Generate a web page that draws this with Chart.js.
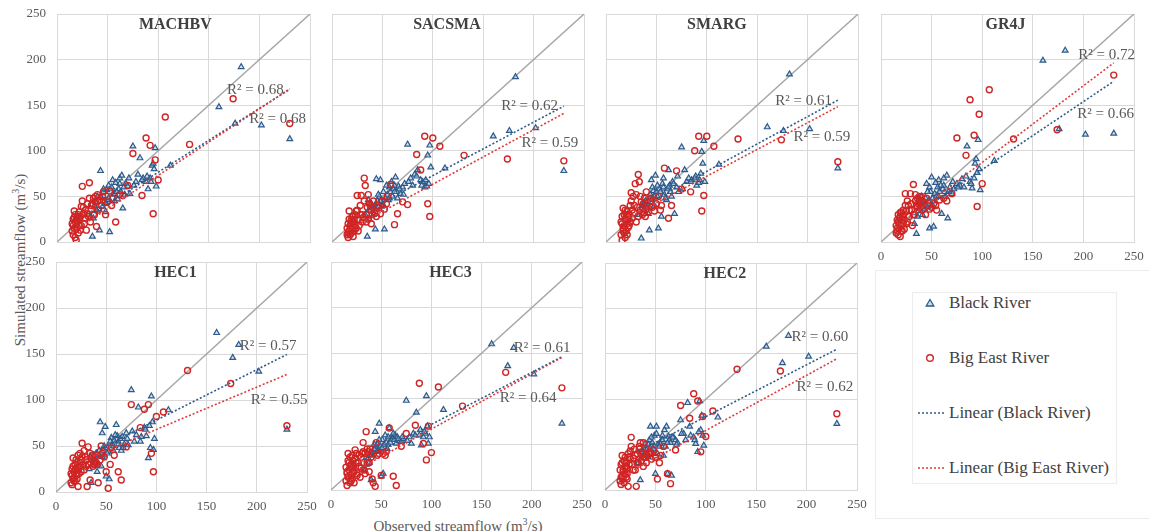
<!DOCTYPE html>
<html>
<head>
<meta charset="utf-8">
<script src="https://cdn.jsdelivr.net/npm/chart.js@4.4.1/dist/chart.umd.min.js"></script>
<style>
  body {
    margin: 0;
    width: 1149px;
    height: 531px;
    background: #ffffff;
    position: relative;
    overflow: hidden;
    font-family: "Liberation Serif", "Times New Roman", serif;
  }
  canvas {
    position: absolute;
  }
  .axis-title {
    position: absolute;
    font-family: "Liberation Serif", serif;
    font-size: 15px;
    color: #595959;
    white-space: nowrap;
    text-align: center;
  }
  .legend-frame {
    position: absolute;
    border: 1px solid #ececec;
  }
  .legend-text {
    position: absolute;
    left: 949px;
    font-family: "Liberation Serif", serif;
    font-size: 17px;
    line-height: 20px;
    color: #404040;
    white-space: nowrap;
  }
</style>
</head>
<body>

<div class="legend-frame" style="left:875px; top:270px; width:280px; height:247px;"></div>
<div class="legend-frame" style="left:912px; top:292px; width:203px; height:190px;"></div>
<svg style="position:absolute; left:875px; top:270px;" width="274" height="247">
  <polygon points="55,29.5 58.8,36 51.2,36" fill="rgba(160,190,225,0.5)" stroke="#2e5b8a" stroke-width="1.3"/>
  <circle cx="55" cy="88" r="3.3" fill="none" stroke="#d02525" stroke-width="1.4"/>
  <line x1="43" y1="143" x2="70" y2="143" stroke="#2e5b8a" stroke-width="1.6" stroke-dasharray="2,2"/>
  <line x1="43" y1="198" x2="70" y2="198" stroke="#e03a3a" stroke-width="1.6" stroke-dasharray="2,2"/>
</svg>
<div class="legend-text" style="top:293px;">Black River</div>
<div class="legend-text" style="top:348px;">Big East River</div>
<div class="legend-text" style="top:403px;">Linear (Black River)</div>
<div class="legend-text" style="top:458px;">Linear (Big East River)</div>

<div class="axis-title" style="left:-82px; top:248px; width:200px; line-height:20px; transform:rotate(-90deg);">Simulated streamflow (m<sup style="font-size:10px">3</sup>/s)</div>
<div class="axis-title" style="left:358px; top:512px; width:200px; line-height:20px;">Observed streamflow (m<sup style="font-size:10px">3</sup>/s)</div>

<script>
// observed flows, shared by every model panel
const blackObs = [33, 35, 36, 37, 38, 40, 41, 42, 43, 44, 45, 46, 47, 48, 49, 50, 51, 52, 53, 55, 56, 57, 58, 60, 61, 62, 63, 64, 65, 66, 68, 70, 72, 75, 78, 80, 82, 85, 88, 90, 92, 94, 95, 96, 97, 98, 112, 160, 176, 182, 202, 230,
  39, 43, 46, 48, 51, 54, 57, 59, 62, 67, 71, 76, 84, 89, 93];
const bigEastObs = [15, 15, 16, 16, 17, 17, 18, 18, 19, 19, 20, 20, 21, 21, 22, 22, 23, 24, 25, 26, 27, 28, 29, 30, 31, 32, 33, 34, 35, 36, 37, 38, 39, 40, 41, 42, 44, 46, 48, 50, 52, 55, 58, 62, 65, 70, 75, 84, 88, 92, 95, 97, 100, 107, 131, 174, 230,
  16, 17, 18, 19, 20, 21, 22, 23, 24, 25, 26, 28, 30, 32, 34, 36, 38, 40, 45, 54];

// simulated flows per model
const machbvBlack = [28, 6, 26, 40, 44, 50, 36, 13, 78, 48, 39, 55, 45, 33, 57, 46, 62, 11, 58, 68, 52, 53, 65, 47, 58, 70, 55, 73, 37, 60, 64, 61, 53, 105, 66, 74, 92, 70, 66, 58, 70, 84, 86, 80, 103, 61, 84, 148, 130, 192, 128, 113,
  35, 50, 58, 42, 48, 60, 45, 55, 64, 52, 70, 62, 68, 72, 66];
const machbvBigEast = [12, 20, 8, 25, 34, 15, 22, 5, 2, 24, 28, 16, 10, 30, 18, 26, 13, 39, 61, 31, 20, 35, 13, 42, 28, 65, 22, 36, 42, 48, 30, 50, 17, 45, 35, 46, 40, 55, 30, 44, 56, 48, 22, 52, 51, 62, 97, 51, 114, 106, 31, 90, 68, 137, 107, 157, 130,
  18, 27, 30, 14, 22, 25, 33, 28, 18, 45, 38, 26, 31, 48, 40, 30, 44, 52, 50, 40];
const sacsmaBlack = [30, 6, 46, 25, 35, 40, 30, 31, 14, 69, 45, 38, 50, 68, 39, 42, 55, 14, 48, 52, 46, 60, 55, 50, 58, 62, 71, 55, 48, 61, 53, 60, 64, 107, 70, 62, 74, 79, 68, 66, 60, 61, 95, 64, 106, 82, 81, 116, 122, 181, 125, 78,
  42, 36, 52, 45, 40, 62, 48, 66, 55, 58, 52, 66, 72, 62, 68];
const sacsmaBigEast = [8, 15, 5, 20, 34, 12, 18, 8, 10, 24, 14, 22, 6, 28, 16, 12, 20, 34, 51, 24, 18, 30, 51, 22, 27, 70, 62, 30, 38, 25, 42, 35, 20, 38, 45, 32, 28, 40, 31, 45, 36, 50, 63, 19, 31, 44, 41, 96, 79, 116, 42, 28, 114, 105, 95, 91, 89,
  10, 25, 14, 20, 28, 18, 25, 30, 15, 35, 12, 40, 30, 45, 22, 52, 40, 30, 38, 42];
const smargBlack = [30, 4, 40, 35, 42, 44, 38, 31, 13, 52, 68, 48, 56, 40, 73, 55, 50, 15, 58, 28, 64, 60, 52, 46, 58, 79, 62, 55, 50, 66, 31, 60, 55, 104, 79, 66, 70, 68, 70, 62, 65, 75, 99, 86, 111, 66, 85, 126, 122, 184, 124, 81,
  45, 38, 60, 50, 62, 55, 70, 48, 60, 64, 72, 58, 66, 72, 68];
const smargBigEast = [8, 22, 2, 28, 37, 15, 18, 10, 25, 5, 30, 12, 20, 34, 16, 24, 30, 40, 54, 26, 50, 32, 64, 22, 38, 74, 66, 35, 44, 30, 42, 48, 28, 36, 40, 33, 45, 38, 34, 42, 50, 40, 81, 26, 40, 78, 58, 55, 100, 116, 34, 51, 116, 105, 113, 112, 88,
  20, 12, 30, 35, 25, 8, 28, 18, 22, 45, 35, 40, 52, 28, 50, 38, 32, 55, 48, 35];
const gr4jBlack = [20, 9, 28, 34, 38, 50, 30, 40, 42, 48, 64, 38, 45, 15, 55, 71, 48, 17, 53, 50, 60, 68, 55, 31, 58, 62, 55, 50, 73, 26, 60, 53, 58, 64, 62, 69, 60, 105, 66, 59, 70, 91, 76, 112, 80, 57, 89, 199, 124, 210, 118, 119,
  44, 36, 55, 60, 40, 65, 50, 62, 70, 55, 66, 60, 72, 64, 86];
const gr4jBigEast = [10, 18, 12, 24, 30, 8, 20, 15, 6, 28, 33, 18, 12, 25, 20, 30, 14, 53, 34, 22, 40, 28, 53, 35, 18, 63, 30, 45, 40, 48, 42, 46, 38, 50, 35, 44, 30, 40, 36, 38, 42, 35, 46, 48, 45, 53, 114, 95, 156, 117, 39, 140, 64, 167, 113, 123, 183,
  15, 22, 26, 32, 12, 28, 35, 24, 40, 20, 45, 35, 42, 30, 52, 38, 50, 44, 48, 40];
const hec1Black = [25, 10, 30, 38, 35, 42, 22, 30, 40, 76, 28, 64, 45, 40, 71, 17, 48, 44, 14, 59, 52, 50, 56, 73, 61, 55, 48, 58, 45, 60, 52, 64, 51, 111, 55, 62, 92, 60, 70, 61, 37, 48, 104, 76, 46, 58, 89, 173, 146, 160, 131, 68,
  32, 45, 38, 50, 42, 55, 45, 62, 52, 48, 58, 66, 55, 68, 72];
const hec1BigEast = [10, 20, 8, 25, 37, 14, 22, 16, 12, 30, 26, 18, 14, 32, 6, 24, 20, 42, 35, 53, 30, 24, 38, 28, 6, 49, 30, 13, 36, 40, 28, 33, 38, 32, 30, 10, 35, 42, 38, 22, 4, 48, 40, 22, 13, 49, 95, 70, 90, 95, 42, 22, 82, 87, 132, 118, 72,
  18, 28, 12, 24, 35, 20, 40, 28, 32, 22, 38, 45, 35, 30, 42, 38, 30, 40, 50, 30];
const hec3Black = [22, 28, 40, 35, 30, 11, 42, 38, 45, 64, 48, 50, 42, 73, 48, 15, 55, 18, 50, 52, 45, 58, 68, 56, 55, 58, 55, 60, 51, 58, 54, 53, 56, 98, 58, 51, 62, 85, 60, 49, 58, 62, 103, 70, 51, 58, 88, 160, 136, 156, 127, 73,
  38, 50, 42, 55, 46, 60, 50, 52, 62, 56, 58, 54, 60, 66, 64];
const hec3BigEast = [10, 25, 5, 18, 40, 14, 22, 30, 8, 36, 16, 28, 12, 24, 32, 20, 8, 35, 40, 18, 30, 26, 14, 36, 40, 52, 22, 40, 64, 30, 42, 20, 45, 36, 12, 8, 4, 38, 40, 16, 40, 42, 68, 15, 5, 48, 62, 71, 117, 51, 33, 70, 41, 113, 92, 129, 112,
  20, 32, 15, 26, 10, 38, 28, 20, 44, 30, 16, 38, 24, 42, 18, 45, 30, 40, 52, 38];
const hec2Black = [30, 11, 35, 42, 38, 51, 44, 40, 36, 55, 70, 48, 52, 45, 60, 18, 70, 40, 50, 51, 55, 60, 38, 48, 70, 18, 59, 55, 52, 16, 58, 55, 52, 77, 62, 55, 96, 60, 58, 51, 42, 98, 66, 82, 60, 49, 80, 158, 140, 170, 147, 73,
  44, 50, 58, 40, 62, 48, 55, 66, 52, 58, 50, 62, 70, 55, 64];
const hec2BigEast = [10, 22, 6, 28, 38, 15, 20, 12, 32, 8, 26, 17, 14, 30, 24, 18, 4, 36, 43, 58, 28, 35, 45, 22, 4, 40, 30, 48, 52, 32, 42, 26, 36, 46, 30, 38, 40, 34, 44, 36, 12, 38, 48, 18, 7, 44, 93, 79, 106, 98, 42, 81, 59, 87, 133, 131, 84,
  14, 30, 22, 18, 36, 26, 12, 40, 28, 34, 48, 22, 38, 30, 45, 40, 52, 36, 42, 30];

const models = ["MACHBV", "SACSMA", "SMARG", "GR4J", "HEC1", "HEC3", "HEC2"];
const blackSim = [machbvBlack, sacsmaBlack, smargBlack, gr4jBlack, hec1Black, hec3Black, hec2Black];
const bigEastSim = [machbvBigEast, sacsmaBigEast, smargBigEast, gr4jBigEast, hec1BigEast, hec3BigEast, hec2BigEast];

// linear trend fits and R² as shown on the chart
const blackSlope = [0.70, 0.586, 0.60, 0.745, 0.55, 0.571, 0.571];
const blackIntercept = [6.5, 14.2, 17.5, 4.9, 23, 14.8, 23.7];
const blackR2 = ["0.68", "0.62", "0.61", "0.66", "0.57", "0.61", "0.60"];
const bigEastSlope = [0.73, 0.597, 0.586, 0.84, 0.46, 0.605, 0.608];
const bigEastIntercept = [0, 3.7, 13.6, 3.3, 22, 6.3, 4.7];
const bigEastR2 = ["0.68", "0.59", "0.59", "0.72", "0.55", "0.64", "0.62"];

const axisMin = 0;
const axisMax = 250;
const axisStep = 50;

// layout: plot rectangles in page pixels, title and R² anchors in data units
const panelBoxes = [
  { l: 57, r: 310, t: 14, b: 242, yLabels: true, xLabels: false },
  { l: 332, r: 584, t: 14, b: 242, yLabels: false, xLabels: false },
  { l: 606, r: 858, t: 14, b: 242, yLabels: false, xLabels: false },
  { l: 881, r: 1134, t: 14, b: 242, yLabels: false, xLabels: true },
  { l: 56, r: 307, t: 262, b: 492, yLabels: true, xLabels: true },
  { l: 331, r: 582, t: 262, b: 490, yLabels: false, xLabels: true },
  { l: 605, r: 857, t: 263, b: 490, yLabels: false, xLabels: true }
];
const titleX = [117, 114, 110, 123, 119, 119, 119];
const blackLabelAt = [[168, 167], [168, 149], [168, 155], [194, 140], [183, 159], [182, 156], [185, 168]];
const bigEastLabelAt = [[190, 135], [188, 109], [186, 115], [195, 205], [194, 100], [168, 101], [190, 113]];

const BLUE = "#2e5b8a";
const RED = "#d02525";
const GRID = "#d9d9d9";
const TEXT = "#595959";

Chart.defaults.font.family = "'Liberation Serif', 'Times New Roman', serif";

const panelText = {
  id: "panelText",
  afterDatasetsDraw(chart, args, opts) {
    const { ctx, chartArea } = chart;
    const x = chart.scales.x;
    const y = chart.scales.y;
    ctx.save();
    ctx.textBaseline = "middle";
    ctx.fillStyle = "#404040";
    ctx.font = "bold 16px 'Liberation Serif'";
    ctx.textAlign = "center";
    ctx.fillText(opts.title, x.getPixelForValue(opts.titleX), chartArea.top + 11);
    ctx.font = "15px 'Liberation Serif'";
    ctx.fillStyle = TEXT;
    ctx.textAlign = "left";
    opts.labels.forEach((label) => {
      ctx.fillText(label.text, x.getPixelForValue(label.at[0]), y.getPixelForValue(label.at[1]));
    });
    ctx.restore();
  }
};

function trendPoints(obs, slope, intercept) {
  const lo = Math.min(...obs);
  const hi = Math.max(...obs);
  return [lo, hi].map((v) => ({ x: v, y: slope * v + intercept }));
}

function makePanel(i) {
  const box = panelBoxes[i];
  const padTop = 22;
  const padRight = 22;
  const padLeft = box.yLabels ? 0 : 14;
  const yWidth = box.yLabels ? 40 : 0;
  const xHeight = box.xLabels ? 26 : 22;
  const left = box.l - padLeft - yWidth;
  const top = box.t - padTop;
  const width = box.r + padRight - left;
  const height = box.b + xHeight - top;

  const canvas = document.createElement("canvas");
  canvas.width = width;
  canvas.height = height;
  canvas.style.left = left + "px";
  canvas.style.top = top + "px";
  canvas.style.width = width + "px";
  canvas.style.height = height + "px";
  document.body.appendChild(canvas);

  new Chart(canvas.getContext("2d"), {
    type: "scatter",
    data: {
      datasets: [
        {
          label: "1:1",
          data: [{ x: axisMin, y: axisMin }, { x: axisMax, y: axisMax }],
          showLine: true,
          borderColor: "#a6a6a6",
          borderWidth: 1.4,
          pointRadius: 0,
          order: 4
        },
        {
          label: "Black River",
          data: blackObs.map((v, k) => ({ x: v, y: blackSim[i][k] })),
          pointStyle: "triangle",
          pointRadius: 3.3,
          borderColor: BLUE,
          backgroundColor: "rgba(160, 190, 225, 0.5)",
          borderWidth: 1.2,
          order: 3
        },
        {
          label: "Big East River",
          data: bigEastObs.map((v, k) => ({ x: v, y: bigEastSim[i][k] })),
          pointStyle: "circle",
          pointRadius: 3,
          borderColor: RED,
          backgroundColor: "rgba(255, 255, 255, 0)",
          borderWidth: 1.4,
          order: 2
        },
        {
          label: "Linear (Black River)",
          data: trendPoints(blackObs, blackSlope[i], blackIntercept[i]),
          showLine: true,
          borderColor: BLUE,
          borderWidth: 1.6,
          borderDash: [2, 2],
          pointRadius: 0,
          order: 1
        },
        {
          label: "Linear (Big East River)",
          data: trendPoints(bigEastObs, bigEastSlope[i], bigEastIntercept[i]),
          showLine: true,
          borderColor: "#e03a3a",
          borderWidth: 1.6,
          borderDash: [2, 2],
          pointRadius: 0,
          order: 0
        }
      ]
    },
    options: {
      responsive: false,
      animation: false,
      events: [],
      layout: {
        padding: { left: padLeft, right: padRight, top: padTop, bottom: 0 }
      },
      plugins: {
        legend: { display: false },
        tooltip: { enabled: false },
        panelText: {
          title: models[i],
          titleX: titleX[i],
          labels: [
            { text: "R\u00b2 = " + blackR2[i], at: blackLabelAt[i] },
            { text: "R\u00b2 = " + bigEastR2[i], at: bigEastLabelAt[i] }
          ]
        }
      },
      scales: {
        x: {
          type: "linear",
          min: axisMin,
          max: axisMax,
          ticks: {
            stepSize: axisStep,
            display: box.xLabels,
            padding: 7,
            color: TEXT,
            font: { size: 13 }
          },
          grid: { color: GRID, drawTicks: false },
          border: { color: GRID },
          afterFit: (scale) => {
            scale.height = xHeight;
          }
        },
        y: {
          type: "linear",
          min: axisMin,
          max: axisMax,
          ticks: {
            stepSize: axisStep,
            display: box.yLabels,
            padding: 11,
            color: TEXT,
            font: { size: 13 }
          },
          grid: { color: GRID, drawTicks: false },
          border: { color: GRID },
          afterFit: (scale) => {
            scale.width = yWidth;
          }
        }
      }
    },
    plugins: [panelText]
  });
}

models.forEach((name, i) => makePanel(i));
</script>
</body>
</html>
